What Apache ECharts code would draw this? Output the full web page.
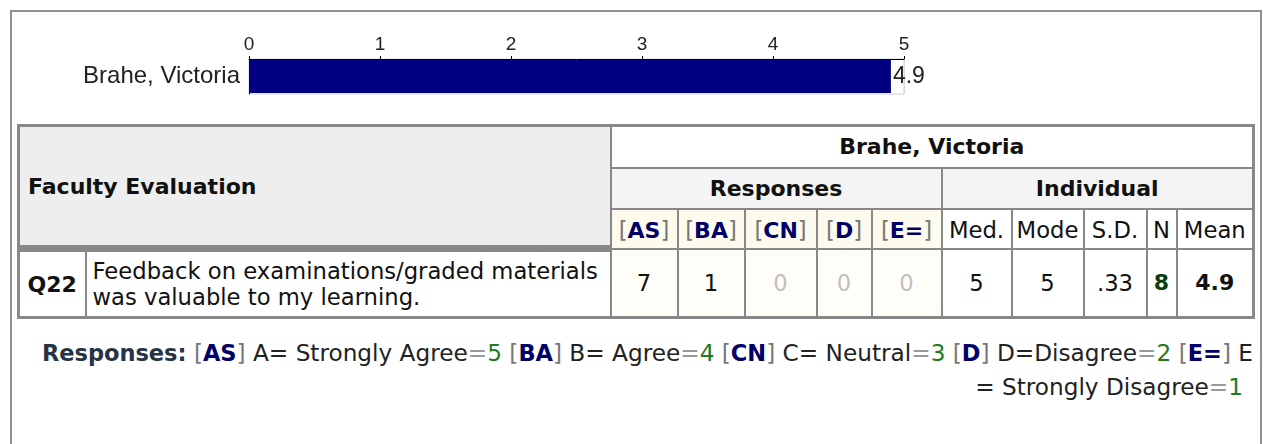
<!DOCTYPE html>
<html>
<head>
<meta charset="utf-8">
<script src="https://cdn.jsdelivr.net/npm/echarts@6/dist/echarts.min.js"></script>
<style>
  body { margin: 0; background: #fff; font-family: "DejaVu Sans", Verdana, sans-serif; }
  #frame { position: absolute; left: 10px; top: 10px; width: 1248px; height: 470px; border: 2px solid #909090; }
  #bar { position: absolute; left: 0; top: 0; width: 1263px; height: 118px; }
  #tbl { position: absolute; left: 17px; top: 124px; border-collapse: collapse; table-layout: fixed;
         width: 1238px; border: 3px solid #888; font-size: 22.7px; color: #111; }
  #tbl td { border: 2px solid #888; padding: 0; text-align: center; overflow: hidden; white-space: nowrap; }
  #tbl td.b { font-weight: bold; font-size: 22px; }
  #tbl td.head { background: #eee; text-align: left; padding-left: 8px; font-weight: bold; font-size: 22px;
                 border-bottom: 7px solid #888; }
  #tbl td.grp { background: #f4f4f4; font-weight: bold; font-size: 22px; }
  #tbl td.code { background: #fdfbee; padding-top: 3px; }
  #tbl td.cnt { background: #fffdf8; }
  #tbl td.q { text-align: left; padding-left: 6px; white-space: normal; line-height: 26px; }
  .br { color: #777; }
  .cd { color: #000066; font-weight: bold; font-size: 22px; }
  .zero { color: #c0c0c0; }
  #legend { position: absolute; left: 20px; top: 336px; width: 1233px; text-align: right;
            font-size: 23.2px; line-height: 33px; color: #222; }
  #legend b.lead { color: #263445; font-size: 22.5px; }
  #legend .cd { font-size: 22.5px; }
  .eq { color: #999; }
  .num { color: #1e7b1e; }
</style>
</head>
<body>
<div id="frame"></div>
<div id="bar"></div>
<table id="tbl"></table>
<div id="legend"></div>
<script>
// chart data
var names = ['Brahe, Victoria'];
var means = [4.9];

// table data
var groupTitle = 'Faculty Evaluation';
var person = 'Brahe, Victoria';
var codes = ['AS', 'BA', 'CN', 'D', 'E='];
var counts = [7, 1, 0, 0, 0];
var statHeads = ['Med.', 'Mode', 'S.D.', 'N', 'Mean'];
var stats = ['5', '5', '.33', '8', '4.9'];
var qId = 'Q22';
var qText = 'Feedback on examinations/graded materials was valuable to my learning.';

// legend data
var legendText = ['A= Strongly Agree', 'B= Agree', 'C= Neutral', 'D=Disagree', 'E = Strongly Disagree'];
var legendVal = [5, 4, 3, 2, 1];

var colW = [67, 525, 67, 67, 72, 55, 70, 70, 72, 63, 30, 77];

var chart = echarts.init(document.getElementById('bar'));
chart.setOption({
  animation: false,
  textStyle: { fontFamily: 'Liberation Sans' },
  grid: { left: 249, top: 59, width: 655, height: 35, show: true, borderColor: '#d0d0d0', borderWidth: 1 },
  xAxis: {
    type: 'value', position: 'top', min: 0, max: 5, interval: 1,
    axisLine: { show: true, lineStyle: { color: '#000', width: 1 } },
    axisTick: { show: true, length: 3, lineStyle: { color: '#000' } },
    axisLabel: { fontSize: 19, color: '#222', margin: 5 },
    splitLine: { show: true, lineStyle: { color: '#ddd' } }
  },
  yAxis: {
    type: 'category', data: names,
    axisLine: { show: true, lineStyle: { color: '#000', width: 1 } },
    axisTick: { show: false },
    axisLabel: { fontSize: 24, color: '#222', margin: 9 }
  },
  series: [{
    type: 'bar', data: means, barWidth: 33,
    itemStyle: { color: '#000080' },
    label: { show: true, position: 'right', distance: 2, fontSize: 23, color: '#222',
             formatter: function (p) { return p.value.toFixed(1); } }
  }]
});

// build table
var h = '<colgroup>' + colW.map(function (w) { return '<col style="width:' + w + 'px">'; }).join('') + '</colgroup>';
h += '<tr style="height:42px"><td class="head" colspan="2" rowspan="3">' + groupTitle + '</td>' +
     '<td colspan="10" class="b">' + person + '</td></tr>';
h += '<tr style="height:41px"><td class="grp" colspan="5">Responses</td><td class="grp" colspan="5">Individual</td></tr>';
h += '<tr style="height:40px">' + codes.map(function (c) {
  return '<td class="code"><span class="br">[</span><span class="cd">' + c + '</span><span class="br">]</span></td>';
}).join('') + statHeads.map(function (s) { return '<td style="padding-top:3px">' + s + '</td>'; }).join('') + '</tr>';
h += '<tr style="height:69px"><td class="b">' + qId + '</td><td class="q">' + qText + '</td>' +
  counts.map(function (c) {
    return '<td class="cnt' + (c === 0 ? ' zero' : '') + '">' + c + '</td>';
  }).join('') +
  stats.map(function (s, i) {
    var st = '';
    if (statHeads[i] === 'N') st = ' class="b" style="color:#0b3d0b"';
    if (statHeads[i] === 'Mean') st = ' class="b"';
    return '<td' + st + '>' + s + '</td>';
  }).join('') + '</tr>';
document.getElementById('tbl').innerHTML = h;

// legend line, wrapped after the last code letter like the original
var lg = '<b class="lead">Responses:</b> ';
lg += codes.map(function (c, i) {
  var t = legendText[i];
  if (i === codes.length - 1) t = t.replace('E = ', 'E<br>= ');
  return '<span class="br">[</span><span class="cd">' + c + '</span><span class="br">]</span> ' +
    t + '<span class="eq">=</span><span class="num">' + legendVal[i] + '</span>';
}).join(' ');
lg += '<span style="display:inline-block;width:10px"></span>';
document.getElementById('legend').innerHTML = lg;
</script>
</body>
</html>
